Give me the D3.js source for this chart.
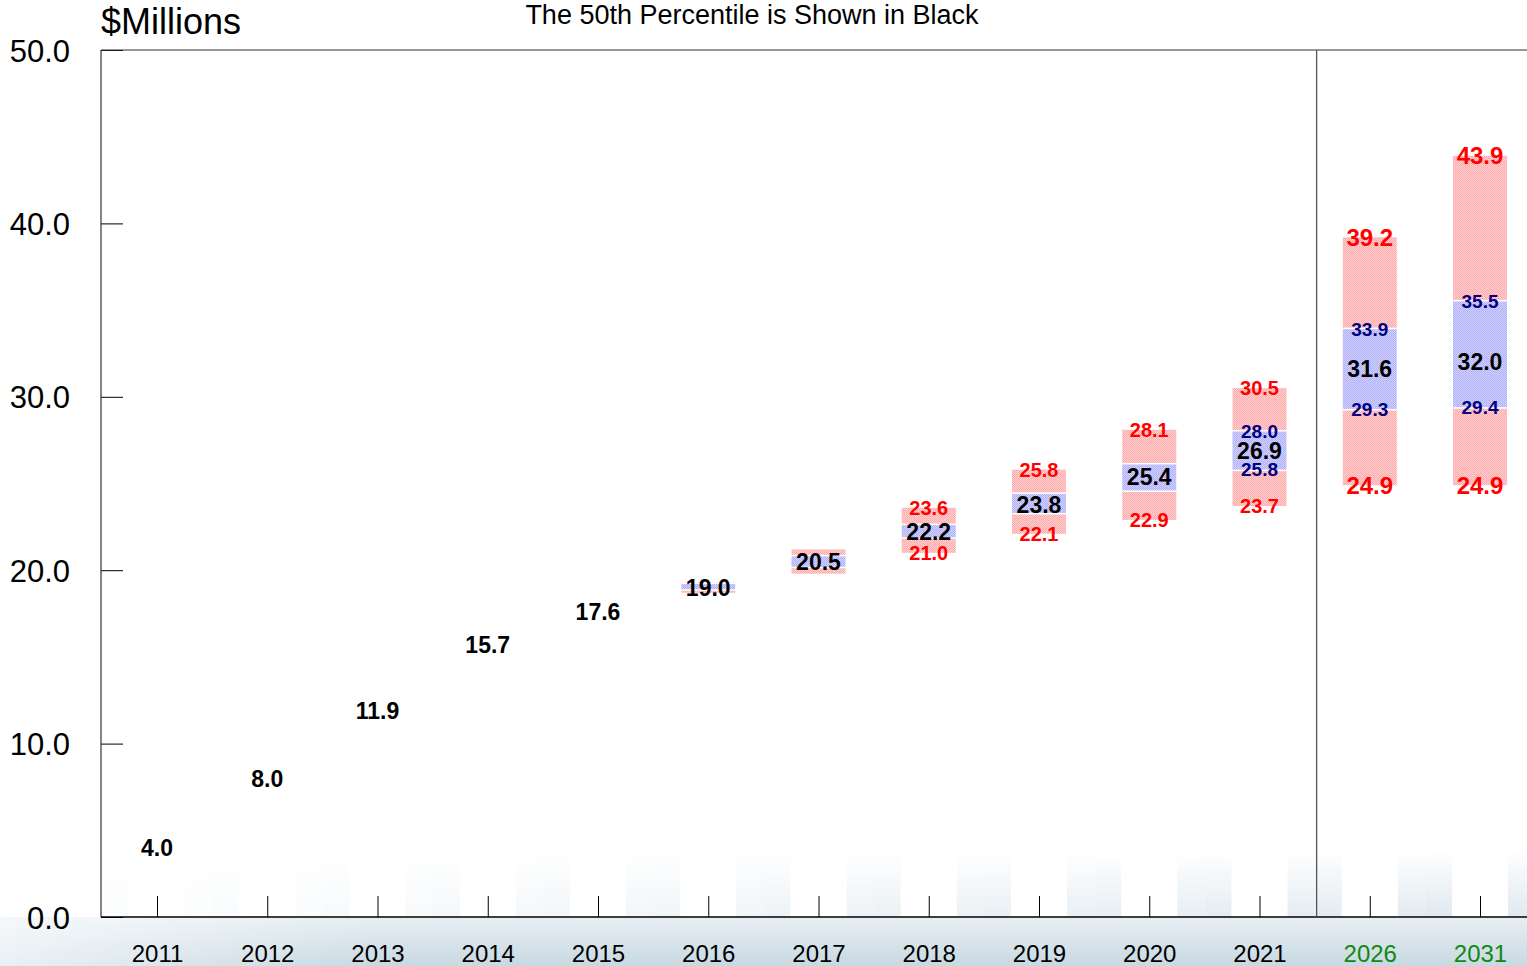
<!DOCTYPE html>
<html><head><meta charset="utf-8">
<script src="https://cdn.jsdelivr.net/npm/d3@7"></script>
<style>html,body{margin:0;padding:0;background:#fff;}svg{display:block;font-family:"Liberation Sans",Arial,sans-serif;}</style>
</head><body>
<script>
const years   = ["2011","2012","2013","2014","2015","2016","2017","2018","2019","2020","2021","2026","2031"];
const projected = [false,false,false,false,false,false,false,false,false,false,false,true,true];
const median  = [4.0, 8.0, 11.9, 15.7, 17.6, 19.0, 20.5, 22.2, 23.8, 25.4, 26.9, 31.6, 32.0];
const p05     = [null,null,null,null,null, 18.7, 19.8, 21.0, 22.1, 22.9, 23.7, 24.9, 24.9];
const p25     = [null,null,null,null,null, 18.9, 20.2, 21.9, 23.3, 24.6, 25.8, 29.3, 29.4];
const p75     = [null,null,null,null,null, 19.2, 20.8, 22.6, 24.4, 26.1, 28.0, 33.9, 35.5];
const p95     = [null,null,null,null,null, 19.3, 21.2, 23.6, 25.8, 28.1, 30.5, 39.2, 43.9];
const showRed  = [false,false,false,false,false,false,false,true,true,true,true,true,true];
const showBlue = [false,false,false,false,false,false,false,false,false,false,true,true,true];
const yTicks = [0,10,20,30,40,50];

const W = 1527, H = 966;
const L = 101, T = 50, B = 917, R = 1527;
const svg = d3.select("body").append("svg").attr("width", W).attr("height", H);
const defs = svg.append("defs");

function hatch(id, bg, fg){
  const p = defs.append("pattern").attr("id", id).attr("patternUnits","userSpaceOnUse").attr("width",2).attr("height",2);
  p.append("rect").attr("width",2).attr("height",2).attr("fill",bg);
  p.append("rect").attr("x",0).attr("y",0).attr("width",1).attr("height",1).attr("fill",fg);
  p.append("rect").attr("x",1).attr("y",1).attr("width",1).attr("height",1).attr("fill",fg);
}
hatch("redH", "#ffd0d0", "#ffaaaa");
hatch("blueH", "#d2d2ff", "#b0b0f8");

const gBottom = defs.append("linearGradient").attr("id","gBottom").attr("x1",0).attr("y1",0).attr("x2",0).attr("y2",1);
gBottom.append("stop").attr("offset","0%").attr("stop-color","#e8eff3");
gBottom.append("stop").attr("offset","100%").attr("stop-color","#c8d9e2");
const gBottomH = defs.append("linearGradient").attr("id","gBottomH").attr("x1",0).attr("y1",0).attr("x2",1).attr("y2",0);
gBottomH.append("stop").attr("offset","0%").attr("stop-color","#ffffff").attr("stop-opacity",0.6);
gBottomH.append("stop").attr("offset","25%").attr("stop-color","#ffffff").attr("stop-opacity",0);
const gPlot = defs.append("linearGradient").attr("id","gPlot").attr("x1",0).attr("y1",0).attr("x2",0).attr("y2",1);
gPlot.append("stop").attr("offset","0%").attr("stop-color","#ffffff");
gPlot.append("stop").attr("offset","100%").attr("stop-color","#dfe9ef");

const x = d3.scalePoint().domain(years).range([157, 1480]);
const y = d3.scaleLinear().domain([0, 50]).range([B, T]);
const step = x.step();
const bw = 54;

// background below axis
svg.append("rect").attr("x",0).attr("y",B).attr("width",W).attr("height",H-B).attr("fill","url(#gBottom)");
svg.append("rect").attr("x",0).attr("y",B).attr("width",W).attr("height",H-B).attr("fill","url(#gBottomH)");

// faint plot-bottom gradient stripes between columns
const gapTop = 850;
years.forEach((yr,i)=>{
  const xc = x(yr);
  const x0 = Math.max(L, xc - step/2), x1 = Math.min(R, xc + step/2);
  svg.append("rect").attr("x",x0).attr("y",gapTop).attr("width",x1-x0).attr("height",B-gapTop)
    .attr("fill","url(#gPlot)").attr("opacity", 0.1 + 0.9*i/(years.length-1));
  svg.append("rect").attr("x",xc-28).attr("y",gapTop-2).attr("width",56).attr("height",B-gapTop+2).attr("fill","#fff");
});
{
  const xc = x("2031") + step/2;
  svg.append("rect").attr("x",xc).attr("y",gapTop).attr("width",R-xc).attr("height",B-gapTop).attr("fill","url(#gPlot)");
}

// bars
const gap = 1.5;
years.forEach((yr,i)=>{
  if (p05[i] == null) return;
  const xc = x(yr);
  const g = svg.append("g");
  g.append("rect").attr("x",xc-bw/2).attr("width",bw)
    .attr("y", y(p25[i]) + gap).attr("height", Math.max(0, y(p05[i]) - y(p25[i]) - gap))
    .attr("fill","url(#redH)");
  g.append("rect").attr("x",xc-bw/2).attr("width",bw)
    .attr("y", y(p95[i])).attr("height", Math.max(0, y(p75[i]) - y(p95[i]) - gap))
    .attr("fill","url(#redH)");
  g.append("rect").attr("x",xc-bw/2).attr("width",bw)
    .attr("y", y(p75[i])).attr("height", Math.max(0, y(p25[i]) - y(p75[i])))
    .attr("fill","url(#blueH)");
});

// axes
const yAxis = d3.axisLeft(y).tickValues(yTicks).tickSize(-22).tickPadding(0).tickFormat(d3.format(".1f"));
const ya = svg.append("g").attr("transform",`translate(${L},0)`).call(yAxis);
ya.select(".domain").remove();
ya.selectAll(".tick line").attr("stroke","#000").attr("stroke-width",1);
ya.selectAll(".tick text").attr("x", -31).attr("font-size","31px").attr("fill","#000")
  .attr("font-family",'"Liberation Sans",Arial,sans-serif').attr("dy","0.36em");

const xAxis = d3.axisBottom(x).tickSize(-21).tickPadding(0);
const xa = svg.append("g").attr("transform",`translate(0,${B})`).call(xAxis);
xa.select(".domain").remove();
xa.selectAll(".tick line").attr("stroke","#000").attr("stroke-width",1);
xa.selectAll(".tick text").attr("y", 45).attr("dy",0).attr("font-size","24px")
  .attr("font-family",'"Liberation Sans",Arial,sans-serif')
  .attr("fill", (d,i)=> projected[i] ? "#118811" : "#000");

// frame lines
svg.append("line").attr("x1",L).attr("x2",L).attr("y1",T).attr("y2",B).attr("stroke","#333").attr("stroke-width",1.2);
svg.append("line").attr("x1",L).attr("x2",R).attr("y1",T).attr("y2",T).attr("stroke","#333").attr("stroke-width",1.2);
svg.append("line").attr("x1",L).attr("x2",R).attr("y1",B).attr("y2",B).attr("stroke","#000").attr("stroke-width",1.5);
const sepX = (x("2021") + x("2026"))/2 + 2;
svg.append("line").attr("x1",sepX).attr("x2",sepX).attr("y1",T).attr("y2",B).attr("stroke","#555").attr("stroke-width",1.3);

// labels
const fmt = d3.format(".1f");
function label(xc, v, size, color){
  svg.append("text").attr("x",xc).attr("y",y(v)).attr("dy","0.36em").attr("text-anchor","middle")
    .attr("font-weight","bold").attr("font-size",size+"px").attr("fill",color).text(fmt(v));
}
years.forEach((yr,i)=>{
  const xc = x(yr);
  if (showRed[i]) {
    const s = projected[i] ? 24 : 20;
    label(xc, p95[i], s, "#ff0000");
    label(xc, p05[i], s, "#ff0000");
  }
  if (showBlue[i]) {
    label(xc, p75[i], 19, "#000080");
    label(xc, p25[i], 19, "#000080");
  }
  label(xc, median[i], 23, "#000");
});

// titles
svg.append("text").attr("x",L).attr("y",34).attr("font-size","36px").attr("fill","#000").text("$Millions");
svg.append("text").attr("x",752).attr("y",24).attr("text-anchor","middle").attr("font-size","27px").attr("fill","#000")
  .text("The 50th Percentile is Shown in Black");
</script>
</body></html>
